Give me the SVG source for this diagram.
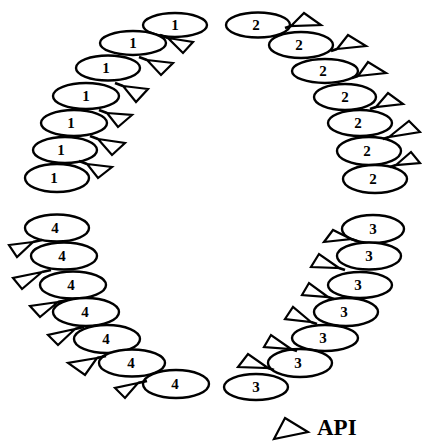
<svg xmlns="http://www.w3.org/2000/svg" width="422" height="441" viewBox="0 0 422 441">
<style>
.e{fill:#fff;stroke:#000;stroke-width:2.4}
.t{fill:#fff;stroke:#000;stroke-width:2.2;stroke-linejoin:miter}
.c{stroke:#000;stroke-width:2.8;fill:none}
.l{font-family:"Liberation Serif",serif;font-size:15px;font-weight:bold;text-anchor:middle;fill:#000}
.lg{font-family:"Liberation Serif",serif;font-size:23px;font-weight:bold;fill:#000}
</style>
<rect width="422" height="441" fill="#fff"/>
<g id="group1">
<g id="n1-1"><ellipse class="e" cx="175" cy="25" rx="32" ry="12"/><text class="l" x="175" y="30">1</text></g>
<g id="n1-2"><ellipse class="e" cx="133" cy="43" rx="33" ry="12"/><text class="l" x="133" y="48">1</text></g>
<g id="n1-3"><ellipse class="e" cx="108" cy="68" rx="32" ry="12.5"/><text class="l" x="106" y="73">1</text></g>
<g id="n1-4"><ellipse class="e" cx="86" cy="96" rx="33" ry="13"/><text class="l" x="86" y="101">1</text></g>
<g id="n1-5"><ellipse class="e" cx="74" cy="123" rx="33" ry="13"/><text class="l" x="71" y="128">1</text></g>
<g id="n1-6"><ellipse class="e" cx="65" cy="150" rx="32" ry="13"/><text class="l" x="61" y="155">1</text></g>
<g id="n1-7"><ellipse class="e" cx="57" cy="178" rx="32" ry="14"/><text class="l" x="54" y="183">1</text></g>
</g>
<g id="group2">
<g id="n2-1"><ellipse class="e" cx="258" cy="25" rx="32" ry="12.5"/><text class="l" x="256" y="30">2</text></g>
<g id="n2-2"><ellipse class="e" cx="301" cy="45" rx="32" ry="13"/><text class="l" x="299" y="50">2</text></g>
<g id="n2-3"><ellipse class="e" cx="325" cy="71" rx="33" ry="12"/><text class="l" x="323" y="76">2</text></g>
<g id="n2-4"><ellipse class="e" cx="345" cy="97" rx="31" ry="13"/><text class="l" x="345" y="102">2</text></g>
<g id="n2-5"><ellipse class="e" cx="360" cy="123" rx="32" ry="13"/><text class="l" x="358" y="128">2</text></g>
<g id="n2-6"><ellipse class="e" cx="369" cy="151" rx="32" ry="14"/><text class="l" x="367" y="156">2</text></g>
<g id="n2-7"><ellipse class="e" cx="375" cy="179" rx="32" ry="14"/><text class="l" x="373" y="184">2</text></g>
</g>
<g id="group3">
<g id="n3-1"><ellipse class="e" cx="373" cy="229" rx="31" ry="14"/><text class="l" x="373" y="234">3</text></g>
<g id="n3-2"><ellipse class="e" cx="369" cy="256" rx="32" ry="13.5"/><text class="l" x="369" y="261">3</text></g>
<g id="n3-3"><ellipse class="e" cx="360" cy="285" rx="32" ry="13"/><text class="l" x="358" y="290">3</text></g>
<g id="n3-4"><ellipse class="e" cx="346" cy="312" rx="32" ry="14"/><text class="l" x="344" y="317">3</text></g>
<g id="n3-5"><ellipse class="e" cx="325" cy="338" rx="33" ry="13"/><text class="l" x="323" y="343">3</text></g>
<g id="n3-6"><ellipse class="e" cx="300" cy="363" rx="32" ry="14"/><text class="l" x="298" y="368">3</text></g>
<g id="n3-7"><ellipse class="e" cx="256" cy="387" rx="32" ry="13"/><text class="l" x="256" y="392">3</text></g>
</g>
<g id="group4">
<g id="n4-1"><ellipse class="e" cx="57" cy="228" rx="32" ry="13.5"/><text class="l" x="55" y="233">4</text></g>
<g id="n4-2"><ellipse class="e" cx="64" cy="256" rx="33" ry="13.5"/><text class="l" x="62" y="261">4</text></g>
<g id="n4-3"><ellipse class="e" cx="73" cy="285" rx="33" ry="13.5"/><text class="l" x="71" y="290">4</text></g>
<g id="n4-4"><ellipse class="e" cx="86" cy="312" rx="33" ry="14"/><text class="l" x="85" y="317">4</text></g>
<g id="n4-5"><ellipse class="e" cx="107" cy="339" rx="33" ry="14"/><text class="l" x="106" y="344">4</text></g>
<g id="n4-6"><ellipse class="e" cx="132" cy="363" rx="33" ry="13.5"/><text class="l" x="131" y="368">4</text></g>
<g id="n4-7"><ellipse class="e" cx="176" cy="384" rx="33" ry="14"/><text class="l" x="175" y="389">4</text></g>
</g>
<g id="connectors">
<line class="c" x1="160" y1="35" x2="168" y2="38"/>
<line class="c" x1="139" y1="57" x2="147" y2="60"/>
<line class="c" x1="115" y1="83" x2="123" y2="86"/>
<line class="c" x1="99" y1="110" x2="107" y2="113"/>
<line class="c" x1="90" y1="136" x2="98" y2="139"/>
<line class="c" x1="79" y1="161" x2="87" y2="164"/>
<line class="c" x1="285" y1="28" x2="291" y2="26"/>
<line class="c" x1="331" y1="51" x2="337" y2="49"/>
<line class="c" x1="352" y1="78" x2="358" y2="76"/>
<line class="c" x1="370" y1="109" x2="376" y2="107"/>
<line class="c" x1="383" y1="139" x2="389" y2="137"/>
<line class="c" x1="390" y1="167" x2="396" y2="165"/>
<line class="c" x1="351" y1="239" x2="357" y2="241"/>
<line class="c" x1="339" y1="268" x2="345" y2="270"/>
<line class="c" x1="328" y1="297" x2="334" y2="299"/>
<line class="c" x1="311" y1="322" x2="317" y2="324"/>
<line class="c" x1="291" y1="349" x2="297" y2="351"/>
<line class="c" x1="268" y1="368" x2="274" y2="370"/>
<line class="c" x1="33" y1="242" x2="42" y2="240"/>
<line class="c" x1="42" y1="272" x2="51" y2="270"/>
<line class="c" x1="58" y1="302" x2="67" y2="300"/>
<line class="c" x1="75" y1="329" x2="84" y2="327"/>
<line class="c" x1="97" y1="358" x2="106" y2="356"/>
<line class="c" x1="138" y1="383" x2="147" y2="381"/>
</g>
<g id="api-group1">
<polygon id="a1-1" class="t" points="168,38 193,42 183,53"/>
<polygon id="a1-2" class="t" points="147,60 173,63 161,75"/>
<polygon id="a1-3" class="t" points="123,86 148,89 136,102"/>
<polygon id="a1-4" class="t" points="107,113 132,115 118,127"/>
<polygon id="a1-5" class="t" points="98,139 125,143 112,155"/>
<polygon id="a1-6" class="t" points="87,164 112,167 98,178"/>
</g>
<g id="api-group2">
<polygon id="a2-1" class="t" points="291,26 304,13 321,25"/>
<polygon id="a2-2" class="t" points="337,49 348,35 366,46"/>
<polygon id="a2-3" class="t" points="358,76 368,62 386,73"/>
<polygon id="a2-4" class="t" points="376,107 388,93 403,104"/>
<polygon id="a2-5" class="t" points="389,137 409,121 420,132"/>
<polygon id="a2-6" class="t" points="396,165 411,152 420,163"/>
</g>
<g id="api-group3">
<polygon id="a3-1" class="t" points="351,239 333,230 324,242"/>
<polygon id="a3-2" class="t" points="339,268 319,254 311,267"/>
<polygon id="a3-3" class="t" points="328,297 309,283 302,295"/>
<polygon id="a3-4" class="t" points="311,322 293,307 285,319"/>
<polygon id="a3-5" class="t" points="291,349 271,335 264,347"/>
<polygon id="a3-6" class="t" points="268,368 248,354 238,367"/>
</g>
<g id="api-group4">
<polygon id="a4-1" class="t" points="33,242 9,245 17,257"/>
<polygon id="a4-2" class="t" points="42,272 13,278 22,289"/>
<polygon id="a4-3" class="t" points="58,302 30,306 40,317"/>
<polygon id="a4-4" class="t" points="75,329 48,335 58,345"/>
<polygon id="a4-5" class="t" points="97,358 68,363 85,375"/>
<polygon id="a4-6" class="t" points="138,383 115,388 125,398"/>
</g>
<g id="legend">
<polygon class="t" points="285,418 308,432 274,439"/>
<text class="lg" x="317" y="435">API</text>
</g>
</svg>
